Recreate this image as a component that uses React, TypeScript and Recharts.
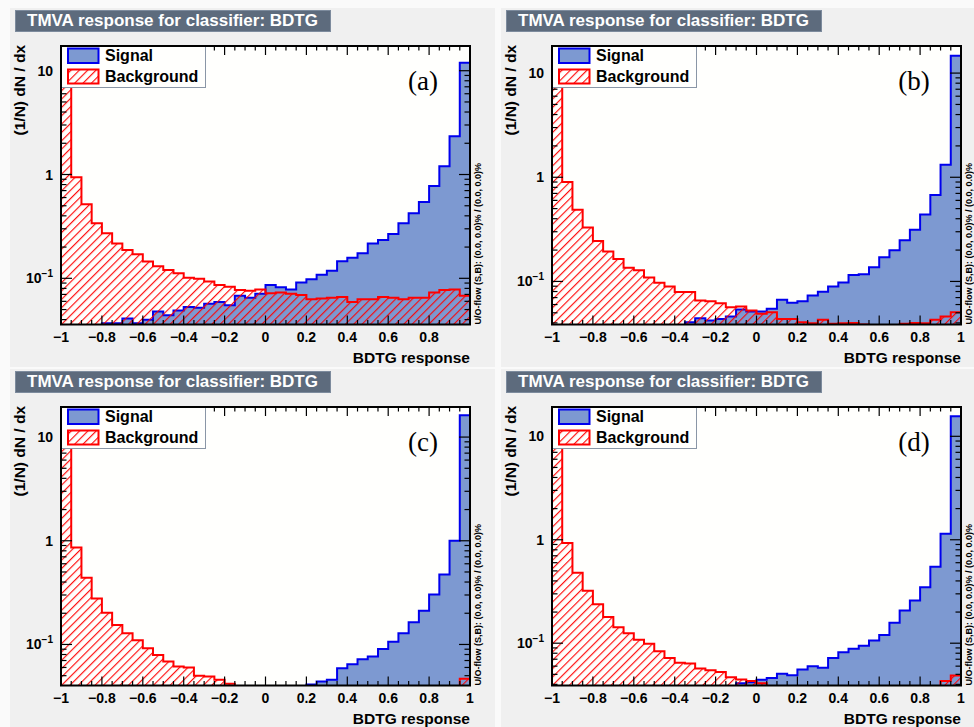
import React from 'react';
import { ComposedChart, Area, XAxis, YAxis, CartesianGrid } from 'recharts';

// bin edges of the BDTG response histograms (40 bins, -1 .. 1)
const binEdges = [
  -1, -0.95, -0.9, -0.85, -0.8, -0.75, -0.7, -0.65, -0.6, -0.55, -0.5, -0.45, -0.4, -0.35,
  -0.3, -0.25, -0.2, -0.15, -0.1, -0.05, 0, 0.05, 0.1, 0.15, 0.2, 0.25, 0.3, 0.35, 0.4,
  0.45, 0.5, 0.55, 0.6, 0.65, 0.7, 0.75, 0.8, 0.85, 0.9, 0.95, 1,
];

// (a)
const signalA = [
  0.03, 0.03, 0.03, 0.03, 0.037, 0.037, 0.041, 0.037, 0.04, 0.048, 0.044, 0.049, 0.053, 0.052,
  0.057, 0.059, 0.055, 0.068, 0.065, 0.071, 0.086, 0.082, 0.078, 0.091, 0.098, 0.108, 0.118,
  0.146, 0.158, 0.174, 0.217, 0.234, 0.267, 0.339, 0.423, 0.543, 0.774, 1.2, 2.34, 11.9,
];
const backgroundA = [
  14.9, 0.94, 0.516, 0.339, 0.272, 0.217, 0.187, 0.171, 0.145, 0.131, 0.12, 0.112, 0.101, 0.099,
  0.093, 0.086, 0.083, 0.077, 0.076, 0.078, 0.072, 0.073, 0.071, 0.069, 0.063, 0.064, 0.065,
  0.066, 0.059, 0.063, 0.063, 0.066, 0.065, 0.063, 0.065, 0.065, 0.073, 0.077, 0.078, 0.068,
];
// (b)
const signalB = [
  0.03, 0.03, 0.03, 0.03, 0.03, 0.03, 0.03, 0.03, 0.03, 0.03, 0.03, 0.03, 0.03, 0.0406,
  0.0444, 0.0422, 0.0437, 0.046, 0.0539, 0.0515, 0.0515, 0.0546, 0.0667, 0.0624, 0.0647,
  0.0733, 0.0796, 0.0895, 0.0978, 0.115, 0.117, 0.137, 0.171, 0.199, 0.248, 0.314, 0.438,
  0.676, 1.32, 14.7,
];
const backgroundB = [
  15.5, 0.9, 0.489, 0.33, 0.244, 0.194, 0.164, 0.135, 0.128, 0.109, 0.097, 0.0895, 0.079, 0.079,
  0.0656, 0.0647, 0.0618, 0.0566, 0.0575, 0.0526, 0.0489, 0.0507, 0.0437, 0.0437, 0.0406,
  0.0397, 0.0428, 0.0393, 0.0397, 0.04, 0.0386, 0.03, 0.03, 0.03, 0.0393, 0.04, 0.0397,
  0.0428, 0.046, 0.0507,
];
// (c)
const signalC = [
  0.03, 0.03, 0.03, 0.03, 0.03, 0.03, 0.03, 0.03, 0.03, 0.03, 0.03, 0.03, 0.03, 0.03, 0.03,
  0.03, 0.03, 0.03, 0.03, 0.03, 0.03, 0.03, 0.03, 0.03, 0.041, 0.0439, 0.0456, 0.059, 0.0645,
  0.0721, 0.0764, 0.0905, 0.106, 0.128, 0.164, 0.211, 0.304, 0.473, 1.0, 16.2,
];
const backgroundC = [
  16.6, 0.86, 0.439, 0.278, 0.202, 0.154, 0.128, 0.11, 0.092, 0.079, 0.0684, 0.0612, 0.06,
  0.0498, 0.049, 0.0456, 0.0418, 0.03, 0.03, 0.03, 0.03, 0.03, 0.03, 0.03, 0.03, 0.03, 0.03,
  0.03, 0.03, 0.03, 0.03, 0.03, 0.03, 0.03, 0.03, 0.03, 0.03, 0.03, 0.03, 0.0466,
];
// (d)
const signalD = [
  0.03, 0.03, 0.03, 0.03, 0.03, 0.03, 0.03, 0.03, 0.03, 0.03, 0.03, 0.03, 0.03, 0.03, 0.03,
  0.03, 0.03, 0.03, 0.041, 0.042, 0.0444, 0.0462, 0.0506, 0.049, 0.0556, 0.0598, 0.058, 0.072,
  0.0816, 0.0885, 0.0946, 0.106, 0.12, 0.158, 0.207, 0.258, 0.347, 0.547, 1.14, 15.6,
];
const backgroundD = [
  16.2, 0.93, 0.48, 0.322, 0.238, 0.179, 0.143, 0.125, 0.108, 0.099, 0.0834, 0.072, 0.0646,
  0.0635, 0.0569, 0.0548, 0.0528, 0.0469, 0.0446, 0.043, 0.041, 0.03, 0.03, 0.03, 0.03, 0.03,
  0.03, 0.03, 0.03, 0.03, 0.03, 0.03, 0.03, 0.03, 0.03, 0.03, 0.03, 0.03, 0.043, 0.0487,
];

const xLabelsA = [-1, -0.8, -0.6, -0.4, -0.2, 0, 0.2, 0.4, 0.6, 0.8];
const xLabelsFull = [-1, -0.8, -0.6, -0.4, -0.2, 0, 0.2, 0.4, 0.6, 0.8, 1];
const yTicks = [
  0.04, 0.05, 0.06, 0.07, 0.08, 0.09, 0.1, 0.2, 0.3, 0.4, 0.5, 0.6, 0.7, 0.8, 0.9,
  1, 2, 3, 4, 5, 6, 7, 8, 9, 10,
];
const yMajor = [0.1, 1, 10];

const SANS = '"Liberation Sans", Arial, Helvetica, sans-serif';
const CHART_W = 485;
const CHART_H = 359;
const PLOT_L = 51;
const PLOT_T = 38;
const PLOT_W = 409;
const PLOT_H = 278.5;

const near = (a: number, b: number) => Math.abs(a - b) < 1e-6;
const fmtX = (v: number) => (near(v, 0) ? '0' : v < 0 ? `\u2212${Math.abs(v)}` : `${v}`);

function makeXTick(labels: number[]) {
  return (props: any) => {
    const { x, y, payload } = props;
    const v = payload.value;
    const major = near(v * 5, Math.round(v * 5));
    const len = major ? 9 : 4.5;
    const label = labels.some((l) => near(l, v));
    return (
      <g>
        <line x1={x} x2={x} y1={y} y2={y - len} stroke="#000" strokeWidth={1.2} />
        <line x1={x} x2={x} y1={y - PLOT_H} y2={y - PLOT_H + len} stroke="#000" strokeWidth={1.2} />
        {label && (
          <text x={x} y={y + 17} textAnchor="middle" fontFamily={SANS} fontWeight="bold" fontSize={14} fill="#000">
            {fmtX(v)}
          </text>
        )}
      </g>
    );
  };
}

const YTick = (props: any) => {
  const { x, y, payload } = props;
  const v = payload.value;
  const major = yMajor.some((m) => near(m, v));
  const len = major ? 11 : 5.5;
  return (
    <g>
      <line x1={x} x2={x + len} y1={y} y2={y} stroke="#000" strokeWidth={1.2} />
      <line x1={x + PLOT_W} x2={x + PLOT_W - len} y1={y} y2={y} stroke="#000" strokeWidth={1.2} />
      {major && (
        <text x={x - 8} y={y + 5} textAnchor="end" fontFamily={SANS} fontWeight="bold" fontSize={14} fill="#000">
          {near(v, 0.1) ? (
            <>
              10<tspan dy={-6} fontSize={10}>{'\u22121'}</tspan>
            </>
          ) : (
            `${v}`
          )}
        </text>
      )}
    </g>
  );
};

type PanelProps = {
  left: number;
  top: number;
  id: string;
  letter: string;
  signal: number[];
  background: number[];
  yDomain: [number, number];
  xLabels: number[];
};

function Panel({ left, top, id, letter, signal, background, yDomain, xLabels }: PanelProps) {
  const data = binEdges.map((x, i) => ({
    x,
    s: signal[Math.min(i, signal.length - 1)],
    b: background[Math.min(i, background.length - 1)],
  }));
  const ticks = yTicks.filter((t) => t >= yDomain[0] && t <= yDomain[1]);
  const hatch = `hatch-${id}`;

  return (
    <div style={{ position: 'absolute', left, top, width: CHART_W, height: CHART_H, background: '#f0f0f0', overflow: 'hidden' }}>
      <div
        style={{
          position: 'absolute', left: 5, top: 2, width: 316, height: 22, boxSizing: 'border-box',
          background: '#5d6b7d', border: '1px solid #7d8b9d', color: '#fff', fontFamily: SANS,
          fontWeight: 'bold', fontSize: 17, lineHeight: '20px', paddingLeft: 11, whiteSpace: 'nowrap',
        }}
      >
        TMVA response for classifier: BDTG
      </div>
      <ComposedChart width={CHART_W} height={CHART_H} data={data} margin={{ top: PLOT_T, right: CHART_W - PLOT_L - PLOT_W, left: 0, bottom: 0 }}>
        <defs>
          <pattern id={hatch} patternUnits="userSpaceOnUse" width={5.9} height={5.9} patternTransform="rotate(45)">
            <line x1={0.6} y1={0} x2={0.6} y2={5.9} stroke="#ff0000" strokeWidth={1.1} />
          </pattern>
        </defs>
        <CartesianGrid fill="#fffffd" horizontal={false} vertical={false} />
        <Area
          type="stepAfter" dataKey="s" stroke="#0000ee" strokeWidth={2} fill="#7d99d1" fillOpacity={1}
          baseValue={yDomain[0]} dot={false} activeDot={false} isAnimationActive={false}
        />
        <Area
          type="stepAfter" dataKey="b" stroke="#ff0000" strokeWidth={2} fill={`url(#${hatch})`} fillOpacity={1}
          baseValue={yDomain[0]} dot={false} activeDot={false} isAnimationActive={false}
        />
        <XAxis
          dataKey="x" type="number" domain={[-1, 1]} allowDataOverflow ticks={binEdges} interval={0}
          tick={makeXTick(xLabels)} tickLine={false} axisLine={false} tickSize={0} tickMargin={0} height={CHART_H - PLOT_T - PLOT_H}
        />
        <YAxis
          type="number" scale="log" domain={yDomain} allowDataOverflow ticks={ticks} interval={0}
          tick={YTick} tickLine={false} axisLine={false} tickSize={0} tickMargin={0} width={PLOT_L}
        />
      </ComposedChart>
      <div
        style={{
          position: 'absolute', left: PLOT_L, top: PLOT_T, width: 145, height: 42, boxSizing: 'border-box',
          background: '#fffffd', border: '1px solid #8a96a6', fontFamily: SANS, fontWeight: 'bold', fontSize: 16,
        }}
      >
        <svg width={145} height={42} style={{ position: 'absolute', left: -1, top: -1 }}>
          <rect x={7} y={2.5} width={30.5} height={14.5} fill="#7d99d1" stroke="#0000ee" strokeWidth={2} />
          <rect x={7} y={23.5} width={30.5} height={14} fill={`url(#${hatch})`} stroke="#ff0000" strokeWidth={2} />
          <text x={44} y={15} fontFamily={SANS} fontWeight="bold" fontSize={16}>Signal</text>
          <text x={44} y={36} fontFamily={SANS} fontWeight="bold" fontSize={16}>Background</text>
        </svg>
      </div>
      <svg width={CHART_W} height={CHART_H} style={{ position: 'absolute', left: 0, top: 0, pointerEvents: 'none' }}>
        <rect x={PLOT_L} y={PLOT_T} width={PLOT_W} height={PLOT_H} fill="none" stroke="#000" strokeWidth={2} />
        <text
          transform={`translate(9,${PLOT_T - 1}) rotate(-90)`} textAnchor="end" dominantBaseline="central"
          fontFamily={SANS} fontWeight="bold" fontSize={15.5}
        >
          (1/N) dN / dx
        </text>
        <text x={PLOT_L + PLOT_W} y={349} textAnchor="end" dominantBaseline="central" fontFamily={SANS} fontWeight="bold" fontSize={15.5}>
          BDTG response
        </text>
        <text
          transform={`translate(467.5,${PLOT_T + PLOT_H}) rotate(-90)`} textAnchor="start" dominantBaseline="central"
          fontFamily={SANS} fontWeight="bold" fontSize={9}
        >
          U/O-flow (S,B): (0.0, 0.0)% / (0.0, 0.0)%
        </text>
        <text x={413} y={73} textAnchor="middle" dominantBaseline="central" fontFamily='"Liberation Serif", "Times New Roman", serif' fontSize={27}>
          {letter}
        </text>
      </svg>
    </div>
  );
}

export default function App() {
  return (
    <div style={{ position: 'absolute', left: 0, top: 0, width: 974, height: 727, background: '#fafafa', overflow: 'hidden' }}>
      <Panel left={10} top={8} id="a" letter="(a)" signal={signalA} background={backgroundA} yDomain={[0.0359, 17.3]} xLabels={xLabelsA} />
      <Panel left={501} top={8} id="b" letter="(b)" signal={signalB} background={backgroundB} yDomain={[0.0386, 18.2]} xLabels={xLabelsFull} />
      <Panel left={10} top={369} id="c" letter="(c)" signal={signalC} background={backgroundC} yDomain={[0.0402, 19.5]} xLabels={xLabelsFull} />
      <Panel left={501} top={369} id="d" letter="(d)" signal={signalD} background={backgroundD} yDomain={[0.039, 19.2]} xLabels={xLabelsFull} />
    </div>
  );
}
